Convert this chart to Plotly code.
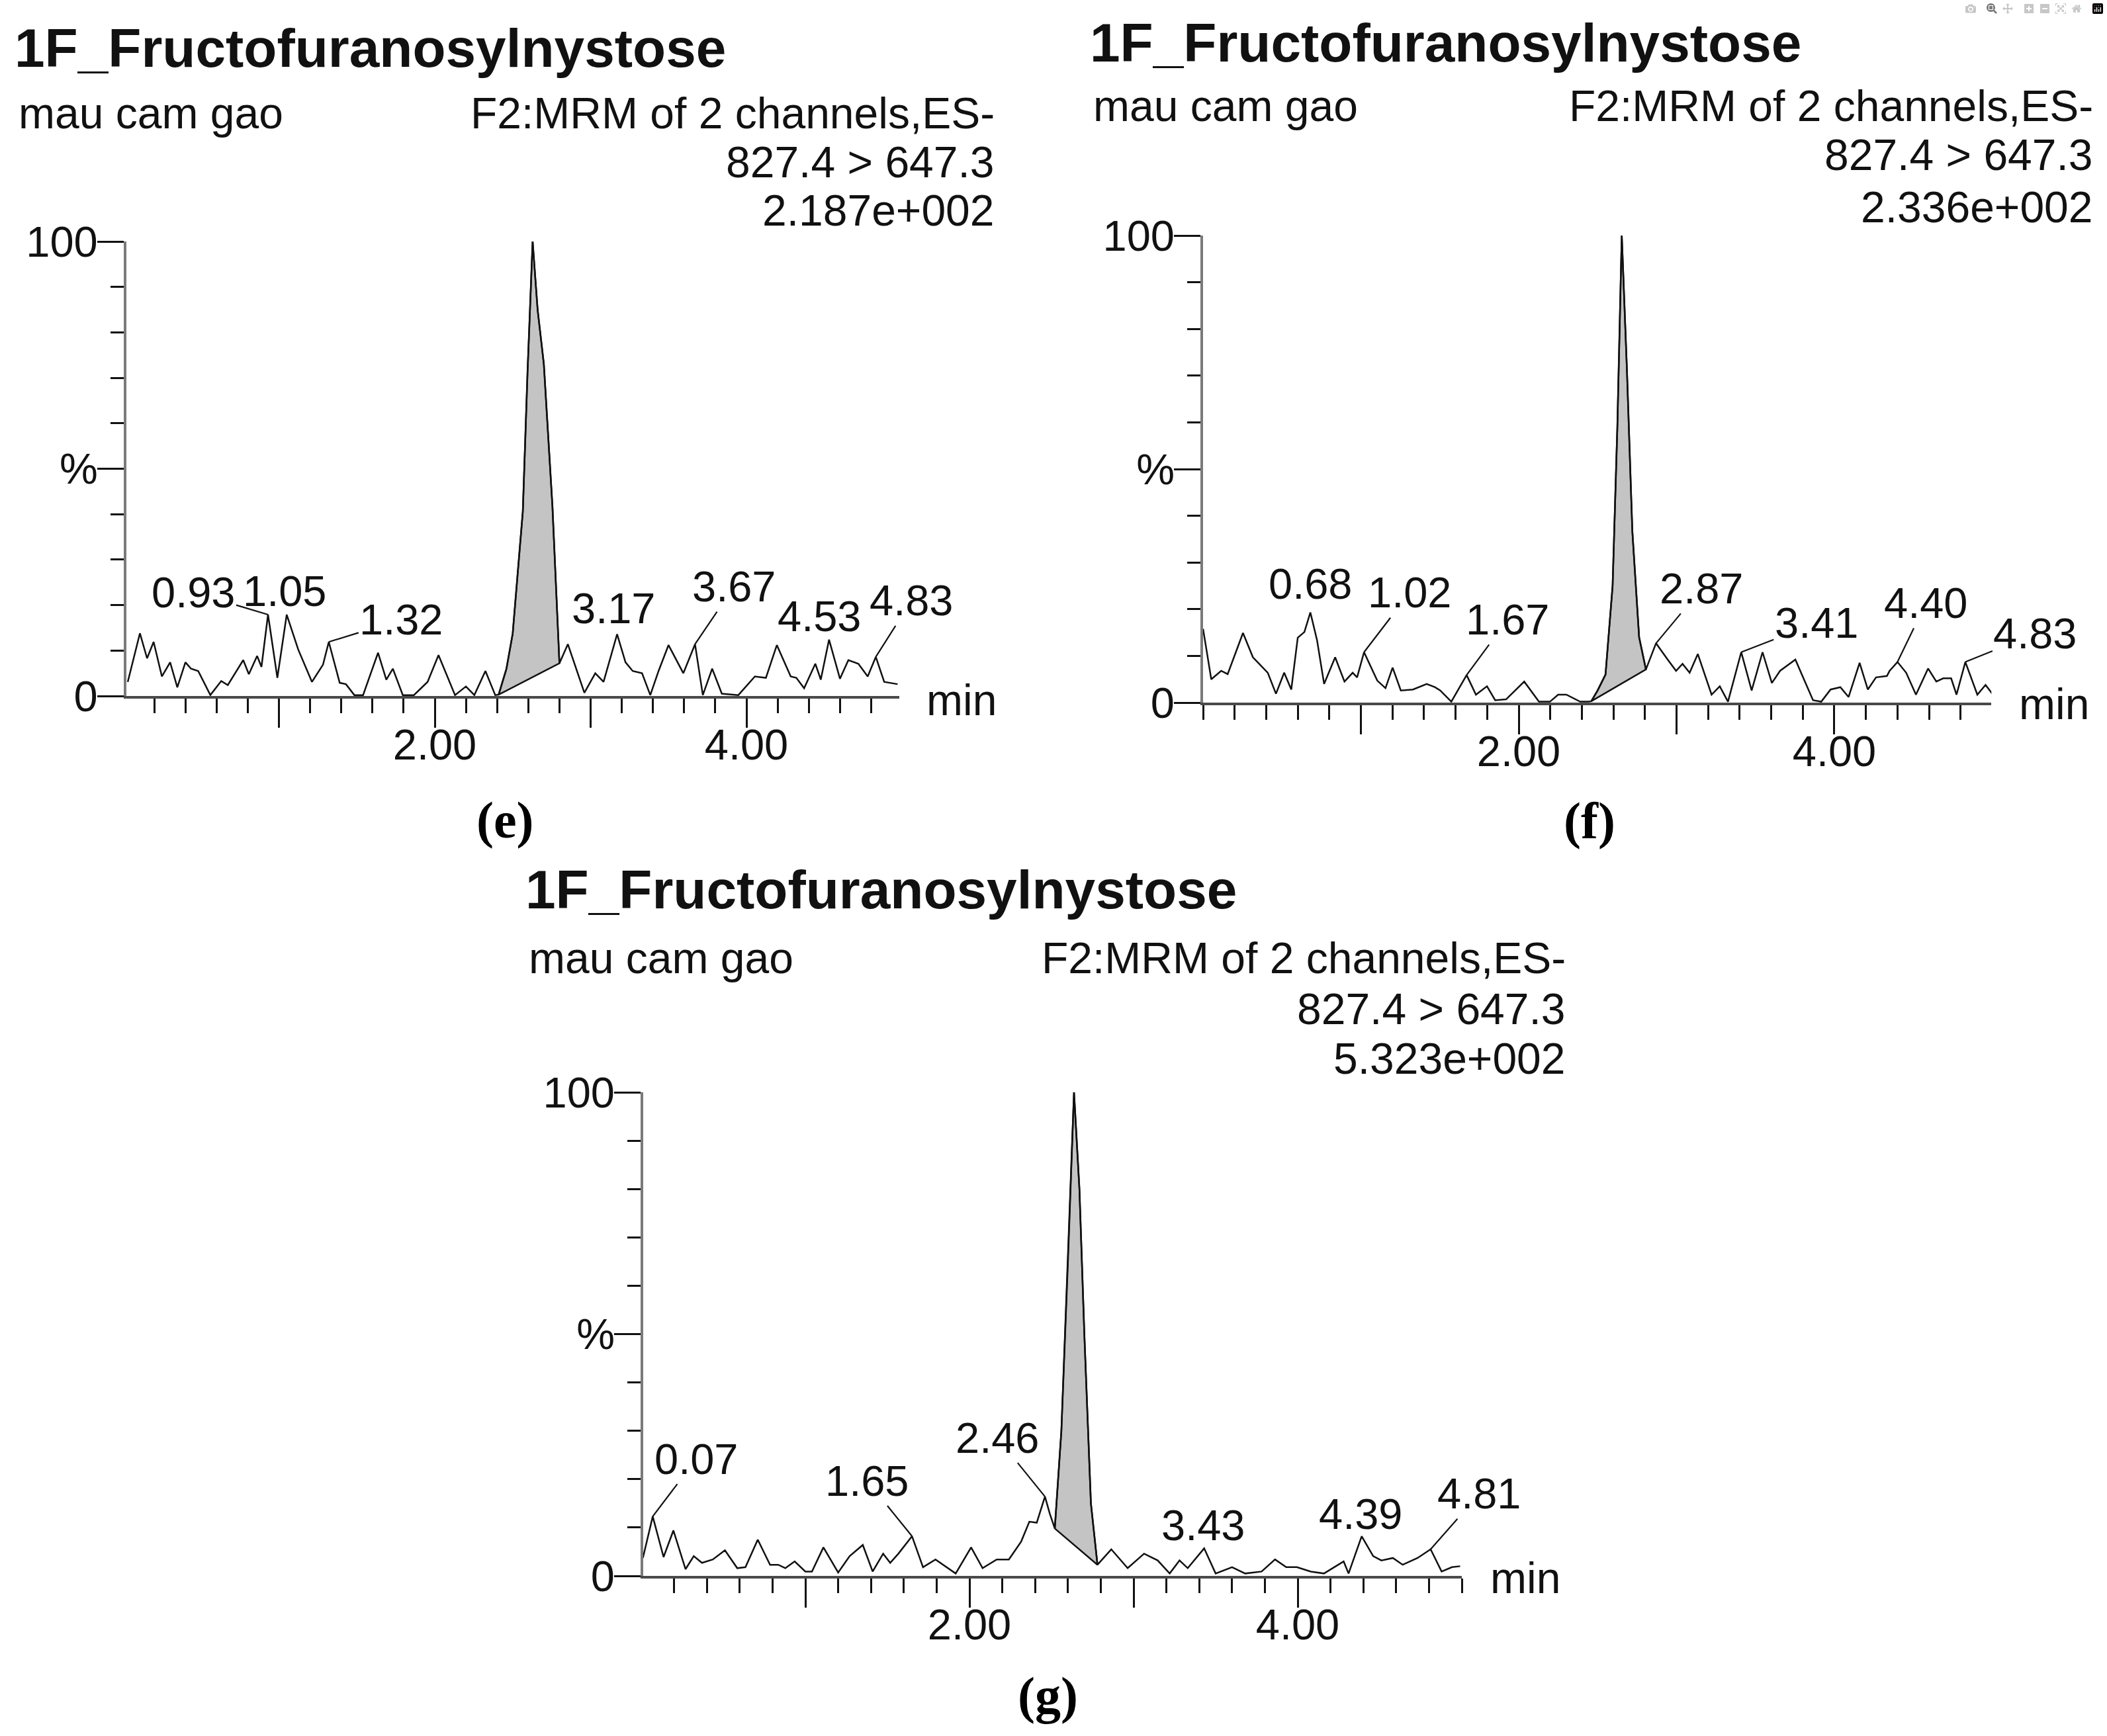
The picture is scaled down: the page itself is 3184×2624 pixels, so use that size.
import plotly.graph_objects as go

W, H = 3184, 2624

#
# Data
#
compound = "1F_Fructofuranosylnystose"
sample = "mau cam gao"
channel = "F2:MRM of 2 channels,ES-"
transition = "827.4 > 647.3"
x_tickvals = [1, 2, 3, 4]
x_ticktext = ["", "2.00", "", "4.00"]
y_tickvals = [0, 50, 100]
y_ticktext = ["0", "%", "100"]

# (e)
e_time = [0.03, 0.108, 0.154, 0.196, 0.249, 0.302, 0.348, 0.40, 0.436, 0.482,
          0.56, 0.63, 0.672, 0.771, 0.807, 0.86, 0.888, 0.93, 0.99, 1.05,
          1.124, 1.212, 1.283, 1.32, 1.39, 1.43, 1.484, 1.54, 1.636, 1.689,
          1.731, 1.795, 1.866, 1.954, 2.024, 2.13, 2.2, 2.254, 2.325, 2.388,
          2.41, 2.46, 2.50, 2.565, 2.595, 2.628, 2.66, 2.70, 2.755, 2.80,
          2.854, 2.96, 3.03, 3.083, 3.17, 3.224, 3.27, 3.33, 3.383, 3.436,
          3.50, 3.595, 3.67, 3.72, 3.78, 3.842, 3.948, 4.054, 4.125, 4.195,
          4.284, 4.32, 4.37, 4.442, 4.477, 4.53, 4.60, 4.654, 4.718, 4.778,
          4.83, 4.884, 4.97]
e_signal = [3.1, 13.8, 8.3, 11.9, 4.3, 7.4, 1.9, 7.4, 6.0, 5.5,
            0.2, 3.3, 2.4, 7.9, 4.8, 8.8, 6.4, 17.9, 4.0, 17.9,
            10.2, 3.1, 6.9, 11.9, 2.9, 2.6, 0.2, 0.2, 9.5, 3.6,
            6.0, 0.2, 0.2, 3.1, 9.0, 0.2, 2.1, 0.2, 5.5, 0.2,
            0.3, 6.0, 13.7, 40.6, 71, 100, 85, 73, 41.8, 7.2,
            11.4, 0.7, 5.0, 3.1, 13.6, 7.4, 5.5, 5.0, 0.2, 5.5,
            11.2, 5.0, 11.4, 0.2, 6.0, 0.5, 0.2, 4.3, 4.0, 11.2,
            4.3, 4.0, 1.7, 7.1, 3.6, 12.4, 3.8, 7.9, 7.1, 4.3,
            8.6, 3.1, 2.6]
e_area = [2.41, 2.80]
e_peaks = [0.93, 1.05, 1.32, 3.17, 3.67, 4.53, 4.83]
e_max = "2.187e+002"

# (f)
f_time = [0.0, 0.052, 0.115, 0.156, 0.253, 0.316, 0.41, 0.462, 0.514, 0.559,
          0.60, 0.642, 0.68, 0.722, 0.767, 0.837, 0.896, 0.948, 0.976, 1.02,
          1.104, 1.156, 1.201, 1.253, 1.33, 1.417, 1.469, 1.503, 1.573, 1.67,
          1.729, 1.799, 1.851, 1.92, 2.035, 2.128, 2.198, 2.25, 2.302, 2.389,
          2.44, 2.46, 2.50, 2.55, 2.595, 2.625, 2.653, 2.686, 2.72, 2.763,
          2.806, 2.87, 2.944, 2.997, 3.038, 3.083, 3.135, 3.222, 3.274, 3.326,
          3.41, 3.476, 3.545, 3.604, 3.656, 3.753, 3.865, 3.917, 3.976, 4.038,
          4.09, 4.16, 4.212, 4.264, 4.333, 4.35, 4.40, 4.455, 4.517, 4.594,
          4.646, 4.69, 4.74, 4.774, 4.83, 4.906, 4.958, 5.0]
f_signal = [15.8, 5.0, 6.8, 6.1, 14.9, 9.7, 6.4, 1.9, 6.4, 2.8,
            13.9, 15.1, 19.3, 13.4, 4.0, 9.7, 4.5, 6.4, 5.4, 10.8,
            4.7, 3.1, 7.5, 2.6, 2.8, 4.0, 3.3, 2.6, 0.2, 5.9,
            1.7, 3.5, 0.5, 0.7, 4.5, 0.2, 0.2, 1.7, 1.7, 0.2,
            0.2, 0.3, 2.6, 6.0, 25, 59, 100, 71, 36.7, 14,
            7.1, 12.7, 9.2, 6.8, 8.3, 6.4, 10.4, 1.7, 3.5, 0.2,
            10.8, 2.6, 10.8, 4.2, 6.8, 9.2, 0.5, 0.2, 2.8, 3.3,
            1.2, 8.5, 2.8, 5.4, 5.7, 6.8, 8.7, 6.4, 1.7, 7.3,
            4.5, 5.2, 5.2, 1.7, 8.7, 1.7, 3.8, 1.9]
f_area = [2.46, 2.806]
f_peaks = [0.68, 1.02, 1.67, 2.87, 3.41, 4.40, 4.83]
f_max = "2.336e+002"

# (g)
g_time = [0.01, 0.07, 0.136, 0.196, 0.27, 0.32, 0.37, 0.436, 0.51, 0.585,
          0.635, 0.71, 0.785, 0.835, 0.878, 0.935, 1.00, 1.04, 1.11, 1.20,
          1.27, 1.35, 1.41, 1.474, 1.517, 1.567, 1.65, 1.717, 1.793, 1.916,
          2.01, 2.08, 2.166, 2.24, 2.315, 2.365, 2.41, 2.46, 2.49, 2.52,
          2.56, 2.60, 2.637, 2.67, 2.70, 2.74, 2.78, 2.864, 2.964, 3.064,
          3.147, 3.22, 3.28, 3.33, 3.43, 3.50, 3.60, 3.68, 3.78, 3.862,
          3.93, 3.995, 4.08, 4.16, 4.28, 4.31, 4.39, 4.46, 4.51, 4.58,
          4.64, 4.73, 4.81, 4.877, 4.94, 4.99]
g_signal = [3.7, 12.3, 3.9, 9.4, 1.4, 4.1, 2.7, 3.4, 5.3, 1.6,
            1.8, 7.5, 2.3, 2.3, 1.6, 3.0, 0.9, 0.9, 5.9, 0.7,
            4.1, 6.4, 0.9, 4.6, 2.7, 4.6, 8.2, 1.8, 3.4, 0.5,
            5.9, 1.6, 3.4, 3.4, 7.1, 11.2, 11.0, 16.4, 12.8, 9.8,
            30, 65, 100, 80, 50, 15, 2.3, 5.5, 1.6, 4.6,
            3.2, 0.5, 3.2, 1.6, 5.7, 0.5, 1.8, 0.5, 0.9, 3.4,
            1.8, 1.8, 0.9, 0.5, 3.0, 0.5, 8.2, 4.1, 3.2, 3.7,
            2.3, 3.7, 5.5, 0.9, 1.8, 2.0]
g_area = [2.52, 2.78]
g_peaks = [0.07, 1.65, 2.46, 3.43, 4.39, 4.81]
g_max = "5.323e+002"

#
# Layout (page pixels)
#
panels = [
    dict(tag="(e)", time=e_time, signal=e_signal, area=e_area, peaks=e_peaks, top=e_max,
         box=(190.7, 1358.8, 365, 1052), xrange=[0.02, 4.98],
         title_xy=(20, 72), sample_xy=(26, 171), right=1505, lines_y=(171, 245, 318),
         min_xy=(1398, 1058), tag_xy=(763, 1239),
         offsets=[(-113, -34, True), (-3, -36, False), (110, -34, True), (-5, -39, False),
                  (59, -87, True), (-14, -35, False), (54, -85, True)]),
    dict(tag="(f)", time=f_time, signal=f_signal, area=f_area, peaks=f_peaks, top=f_max,
         box=(1818, 3009.3, 356, 1062), xrange=[0.0, 4.995],
         title_xy=(1645, 64), sample_xy=(1650, 160), right=3165, lines_y=(160, 234, 313),
         min_xy=(3049, 1064), tag_xy=(2402, 1240),
         offsets=[(0, -43, False), (69, -90, True), (62, -84, True), (69, -83, True),
                  (114, -44, True), (43, -89, True), (106, -43, True)]),
    dict(tag="(g)", time=g_time, signal=g_signal, area=g_area, peaks=g_peaks, top=g_max,
         box=(972, 2209, 1651, 2382), xrange=[0.012, 5.0],
         title_xy=(792, 1344), sample_xy=(797, 1448), right=2368, lines_y=(1448, 1525, 1600),
         min_xy=(2250, 2385), tag_xy=(1583, 2562),
         offsets=[(66, -87, True), (-68, -84, True), (-72, -89, True), (-1, -35, False),
                  (-1, -34, False), (74, -84, True)]),
]

FONT = "Liberation Sans, Arial, sans-serif"
INK = "#111111"


def fx(px):
    return px / W


def fy(py):
    return 1 - py / H


fig = go.Figure()
annotations = []
layout_axes = {}

for i, p in enumerate(panels):
    n = "" if i == 0 else str(i + 1)
    xref, yref = "x" + n, "y" + n
    t, s = p["time"], p["signal"]

    # integrated peak: trace points inside the window, closed by the baseline
    lo, hi = p["area"]
    ax_ = [a for a in t if lo <= a <= hi]
    ay_ = [b for a, b in zip(t, s) if lo <= a <= hi]
    ax_.append(ax_[0])
    ay_.append(ay_[0])
    fig.add_trace(go.Scatter(x=ax_, y=ay_, mode="lines", fill="toself",
                             fillcolor="#c4c4c4", line=dict(color=INK, width=2.5),
                             xaxis=xref, yaxis=yref, showlegend=False, hoverinfo="skip"))
    fig.add_trace(go.Scatter(x=t, y=s, mode="lines", line=dict(color=INK, width=2.5),
                             xaxis=xref, yaxis=yref, showlegend=False))

    x0, x1, ytop, ybot = p["box"]
    layout_axes["xaxis" + n] = dict(
        domain=[fx(x0), fx(x1)], range=p["xrange"], anchor=yref, automargin=False,
        showgrid=False, zeroline=False, showline=True, linecolor="#4a4a4a", linewidth=4,
        ticks="outside", tickvals=x_tickvals, ticktext=x_ticktext,
        ticklen=44, tickwidth=3, tickcolor=INK, ticklabelstandoff=-30,
        tickfont=dict(family=FONT, size=65, color=INK),
        minor=dict(ticks="outside", tick0=0, dtick=0.2, ticklen=22, tickwidth=3, tickcolor=INK),
    )
    layout_axes["yaxis" + n] = dict(
        domain=[fy(ybot), fy(ytop)], range=[0, 100], anchor=xref, automargin=False,
        showgrid=False, zeroline=False, showline=True, linecolor="#7a7a7a", linewidth=4,
        ticks="outside", tickvals=y_tickvals, ticktext=y_ticktext,
        ticklen=40, tickwidth=3, tickcolor=INK, ticklabelstandoff=-14,
        tickfont=dict(family=FONT, size=65, color=INK),
        minor=dict(ticks="outside", tick0=0, dtick=10, ticklen=20, tickwidth=3, tickcolor=INK),
    )

    # peak retention time labels
    for pk, (dx, dy, leader) in zip(p["peaks"], p["offsets"]):
        k = min(range(len(t)), key=lambda j: abs(t[j] - pk))
        annotations.append(dict(
            x=t[k], y=s[k], xref=xref, yref=yref, text="%.2f" % pk,
            showarrow=True, arrowhead=0, arrowwidth=2.2, standoff=0,
            arrowcolor=INK if leader else "rgba(0,0,0,0)", ax=dx, ay=dy,
            font=dict(family=FONT, size=65, color=INK),
        ))

    # header texts
    tx, ty = p["title_xy"]
    annotations.append(dict(x=fx(tx), y=fy(ty), xref="paper", yref="paper", showarrow=False,
                            xanchor="left", yanchor="middle", text="<b>%s</b>" % compound,
                            font=dict(family=FONT, size=82, color=INK)))
    sx, sy = p["sample_xy"]
    annotations.append(dict(x=fx(sx), y=fy(sy), xref="paper", yref="paper", showarrow=False,
                            xanchor="left", yanchor="middle", text=sample,
                            font=dict(family=FONT, size=66, color=INK)))
    for txt, ly in zip([channel, transition, p["top"]], p["lines_y"]):
        annotations.append(dict(x=fx(p["right"]), y=fy(ly), xref="paper", yref="paper",
                                showarrow=False, xanchor="right", yanchor="middle", text=txt,
                                font=dict(family=FONT, size=66, color=INK)))
    mx, my = p["min_xy"]
    annotations.append(dict(x=fx(mx), y=fy(my), xref="paper", yref="paper", showarrow=False,
                            xanchor="left", yanchor="middle", text="min",
                            font=dict(family=FONT, size=66, color=INK)))
    gx, gy = p["tag_xy"]
    annotations.append(dict(x=fx(gx), y=fy(gy), xref="paper", yref="paper", showarrow=False,
                            xanchor="center", yanchor="middle", text="<b>%s</b>" % p["tag"],
                            font=dict(family="Liberation Serif, Times New Roman, serif",
                                      size=78, color="#000000")))

fig.update_layout(
    width=W, height=H, autosize=False,
    margin=dict(l=0, r=0, t=0, b=0, autoexpand=False),
    paper_bgcolor="white", plot_bgcolor="white",
    showlegend=False, annotations=annotations,
    **layout_axes,
)

fig.write_html("out.html", post_script="document.body.style.margin='0';")
